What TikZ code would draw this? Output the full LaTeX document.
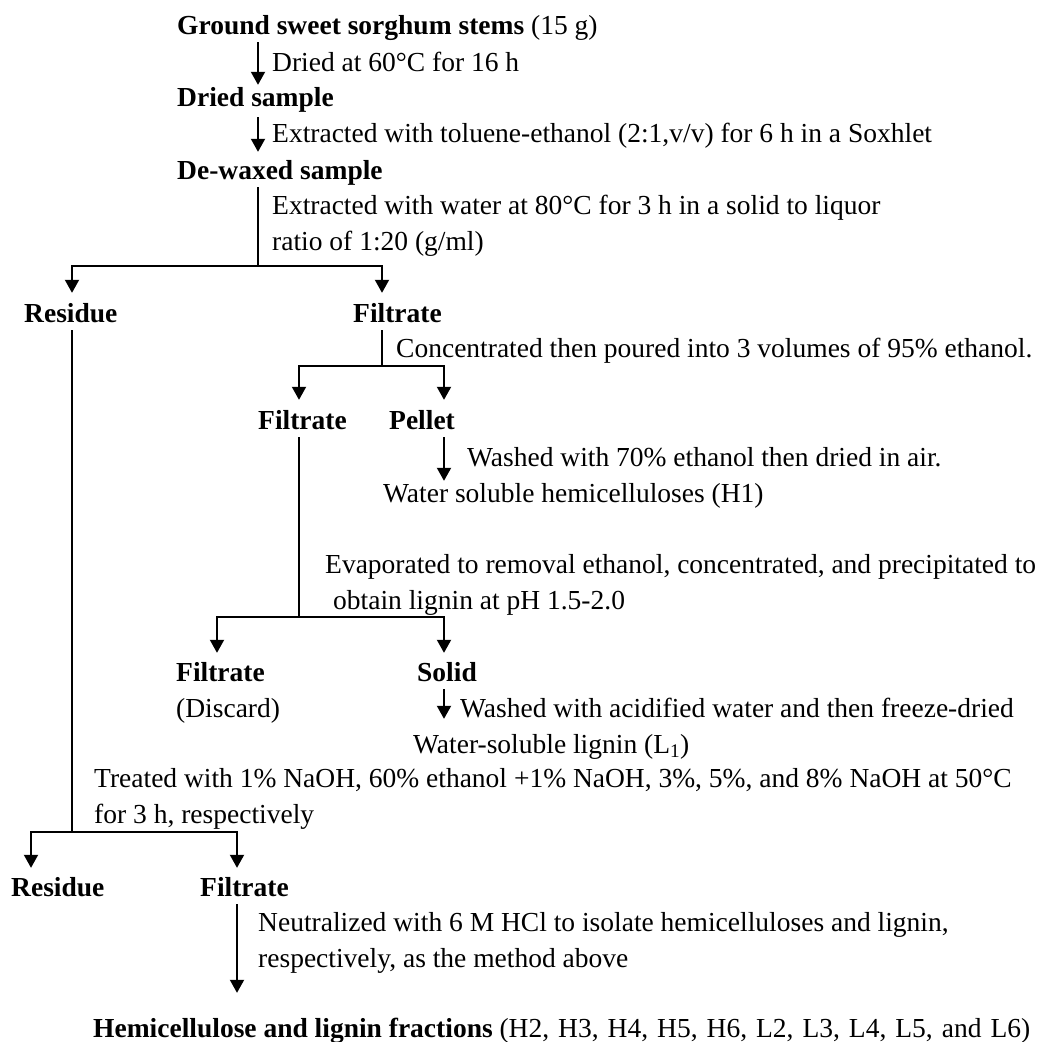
\documentclass[tikz,border=0pt]{standalone}
\usepackage{fontspec}
\setmainfont{Liberation Serif}
\usetikzlibrary{arrows.meta}

\tikzset{
  txt/.style={inner sep=2pt,anchor=base west,font=\fontsize{27.5}{36}\selectfont,text height=19pt,text depth=6pt},
  head/.style={txt,font=\fontsize{27.5}{36}\selectfont\bfseries},
  note/.style={inner sep=0pt,anchor=base west,align=left,font=\fontsize{27.5}{36}\selectfont},
  line/.style={line width=1.9pt},
  flow/.style={line,-{Triangle[length=13pt,width=14pt]}}
}

\begin{document}
\begin{tikzpicture}[x=1pt,y=-1pt]
\useasboundingbox (0,0) rectangle (1042,1042);
% materials
\node[txt] (ground) at (175,34) {\textbf{Ground sweet sorghum stems} (15 g)};
\node[head] (dried) at (175,106) {Dried sample};
\node[head] (dewaxed) at (175,179) {De-waxed sample};
\node[head] (residueA) at (22,322) {Residue};
\node[head] (filtrateA) at (351,322) {Filtrate};
\node[head] (filtrateB) at (256,429) {Filtrate};
\node[head] (pellet) at (387,429) {Pellet};
\node[txt] (hemiH1) at (381,502) {Water soluble hemicelluloses (H1)};
\node[head] (filtrateC) at (174,681) {Filtrate};
\node[txt] (discard) at (174,717) {(Discard)};
\node[head] (solid) at (415,681) {Solid};
\node[txt] (ligninL1) at (411,753) {Water-soluble lignin (L\textsubscript{1})};
\node[head] (residueB) at (9,896) {Residue};
\node[head] (filtrateD) at (198,896) {Filtrate};
\node[txt] (fractions) at (91,1037) {\textbf{Hemicellulose and lignin fractions} {\spaceskip=9pt\relax(H2, H3, H4, H5, H6, L2, L3, L4, L5, and L6)}};
% treatments
\node[note] (stepDry) at (272,71) {Dried at 60°C for 16 h};
\node[note] (stepTol) at (272,142) {Extracted with toluene-ethanol (2:1,v/v) for 6 h in a Soxhlet};
\node[note] (stepWater) at (272,250) {Extracted with water at 80°C for 3 h in a solid to liquor\\ratio of 1:20 (g/ml)};
\node[note] (stepConc) at (396,357) {Concentrated then poured into 3 volumes of 95\% ethanol.};
\node[note] (stepWash) at (467,466) {Washed with 70\% ethanol then dried in air.};
\node[note] (stepEvap) at (325,609) {Evaporated to removal ethanol, concentrated, and precipitated to\\\hspace*{8pt}obtain lignin at pH 1.5-2.0};
\node[note] (stepAcid) at (460,717) {Washed with acidified water and then freeze-dried};
\node[note] (stepNaOH) at (94,823) {Treated with 1\% NaOH, 60\% ethanol +1\% NaOH, 3\%, 5\%, and 8\% NaOH at 50°C\\for 3 h, respectively};
\node[note] (stepHCl) at (258,967) {Neutralized with 6 M HCl to isolate hemicelluloses and lignin,\\respectively, as the method above};
% split points
\coordinate (splitA) at (258,266);
\coordinate (splitB) at (382,366);
\coordinate (splitC) at (299,617);
\coordinate (rightC) at (444,617);
\coordinate (leftC) at (217,617);
\coordinate (splitD) at (72,832);
\coordinate (leftD) at (31,832);
\coordinate (rightD) at (237,832);
% connectors
\draw[flow] (ground.south -| splitA) -- (dried.north -| splitA);
\draw[flow,shorten <=3pt,shorten >=6pt] (dried.south -| splitA) -- (dewaxed.north -| splitA);
\draw[line] (dewaxed.south -| splitA) -- (splitA);
\draw[flow,shorten >=8pt] (splitA) -| (residueA.north -| splitD);
\draw[flow,shorten >=8pt] (splitA) -| (filtrateA.north -| splitB);
\draw[line] (filtrateA.south -| splitB) -- (splitB);
\draw[flow,shorten >=8pt] (splitB) -| (filtrateB.north -| splitC);
\draw[flow,shorten >=8pt] (splitB) -| (pellet.north -| rightC);
\draw[flow] (pellet.south -| rightC) -- (hemiH1.north -| rightC);
\draw[line] (filtrateB.south -| splitC) -- (splitC);
\draw[flow,shorten >=7pt] (splitC) -| (filtrateC.north -| leftC);
\draw[flow,shorten >=7pt] (splitC) -| (solid.north -| rightC);
\draw[flow,shorten >=13pt] (solid.south -| rightC) -- (ligninL1.north -| rightC);
\draw[line] (residueA.south -| splitD) -- (splitD);
\draw[flow,shorten >=7pt] (splitD) -| (residueB.north -| leftD);
\draw[flow,shorten >=7pt] (splitD) -| (filtrateD.north -| rightD);
\draw[flow,shorten >=23pt] (filtrateD.south -| rightD) -- (fractions.north -| rightD);
\end{tikzpicture}
\end{document}
